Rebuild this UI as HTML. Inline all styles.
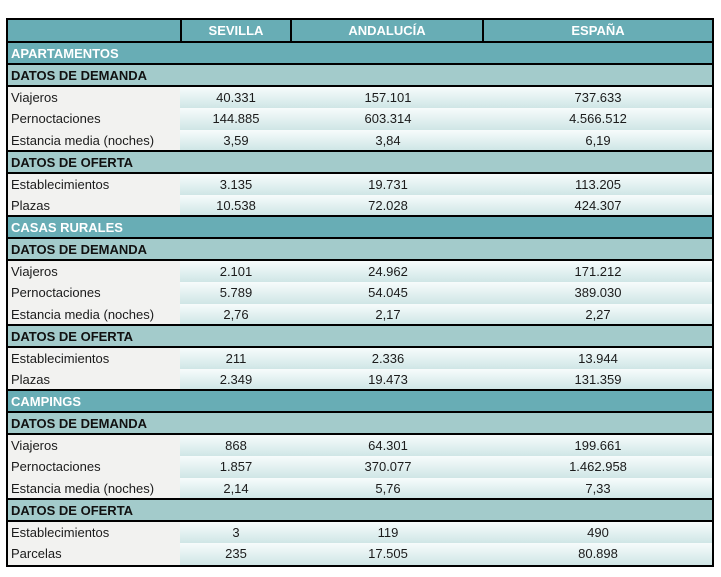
<!DOCTYPE html>
<html><head><meta charset="utf-8"><style>
body{margin:0;background:#fff;width:721px;height:577px;overflow:hidden;font-family:"Liberation Sans",sans-serif;font-size:13px;color:#1b1b1b}
#t{position:absolute;left:6px;top:18px;width:704px;border-left:2px solid #000;border-right:2px solid #000;border-top:2px solid #000;border-bottom:2px solid #000}
.r{position:relative;height:21.75px;box-sizing:border-box;line-height:21px}
.h{background:#68adb5;color:#fff;font-weight:bold;border-bottom:2px solid #000}
.s{background:#a3cbcb;font-weight:bold;border-bottom:2px solid #000;padding-left:3px;color:#111}
.h.sec{padding-left:3px}
.d{background:#f2f2f0}
.d span{position:absolute;top:0;height:100%}
.lab{left:3px}
.c{background:linear-gradient(#f7fcfc,#cfe6e6);text-align:center}
.c1{left:172px;width:112px}.c2{left:284px;width:192px}.c3{left:476px;width:228px}
.hc{position:absolute;top:0;height:100%;text-align:center;box-sizing:border-box}
</style></head><body><div id="t">
<div class="r h" style="height:23px"><div class="hc" style="left:172px;width:112px;border-left:2px solid #000;border-right:2px solid #000">SEVILLA</div><div class="hc" style="left:284px;width:192px;border-right:2px solid #000">ANDALUCÍA</div><div class="hc" style="left:476px;width:228px">ESPAÑA</div></div>
<div class="r h sec">APARTAMENTOS</div>
<div class="r s">DATOS DE DEMANDA</div>
<div class="r d"><span class="lab">Viajeros</span><span class="c c1">40.331</span><span class="c c2">157.101</span><span class="c c3">737.633</span></div>
<div class="r d"><span class="lab">Pernoctaciones</span><span class="c c1">144.885</span><span class="c c2">603.314</span><span class="c c3">4.566.512</span></div>
<div class="r d" style="border-bottom:2px solid #000"><span class="lab">Estancia media (noches)</span><span class="c c1">3,59</span><span class="c c2">3,84</span><span class="c c3">6,19</span></div>
<div class="r s">DATOS DE OFERTA</div>
<div class="r d"><span class="lab">Establecimientos</span><span class="c c1">3.135</span><span class="c c2">19.731</span><span class="c c3">113.205</span></div>
<div class="r d" style="border-bottom:2px solid #000"><span class="lab">Plazas</span><span class="c c1">10.538</span><span class="c c2">72.028</span><span class="c c3">424.307</span></div>
<div class="r h sec">CASAS RURALES</div>
<div class="r s">DATOS DE DEMANDA</div>
<div class="r d"><span class="lab">Viajeros</span><span class="c c1">2.101</span><span class="c c2">24.962</span><span class="c c3">171.212</span></div>
<div class="r d"><span class="lab">Pernoctaciones</span><span class="c c1">5.789</span><span class="c c2">54.045</span><span class="c c3">389.030</span></div>
<div class="r d" style="border-bottom:2px solid #000"><span class="lab">Estancia media (noches)</span><span class="c c1">2,76</span><span class="c c2">2,17</span><span class="c c3">2,27</span></div>
<div class="r s">DATOS DE OFERTA</div>
<div class="r d"><span class="lab">Establecimientos</span><span class="c c1">211</span><span class="c c2">2.336</span><span class="c c3">13.944</span></div>
<div class="r d" style="border-bottom:2px solid #000"><span class="lab">Plazas</span><span class="c c1">2.349</span><span class="c c2">19.473</span><span class="c c3">131.359</span></div>
<div class="r h sec">CAMPINGS</div>
<div class="r s">DATOS DE DEMANDA</div>
<div class="r d"><span class="lab">Viajeros</span><span class="c c1">868</span><span class="c c2">64.301</span><span class="c c3">199.661</span></div>
<div class="r d"><span class="lab">Pernoctaciones</span><span class="c c1">1.857</span><span class="c c2">370.077</span><span class="c c3">1.462.958</span></div>
<div class="r d" style="border-bottom:2px solid #000"><span class="lab">Estancia media (noches)</span><span class="c c1">2,14</span><span class="c c2">5,76</span><span class="c c3">7,33</span></div>
<div class="r s">DATOS DE OFERTA</div>
<div class="r d"><span class="lab">Establecimientos</span><span class="c c1">3</span><span class="c c2">119</span><span class="c c3">490</span></div>
<div class="r d"><span class="lab">Parcelas</span><span class="c c1">235</span><span class="c c2">17.505</span><span class="c c3">80.898</span></div>
</div></body></html>
